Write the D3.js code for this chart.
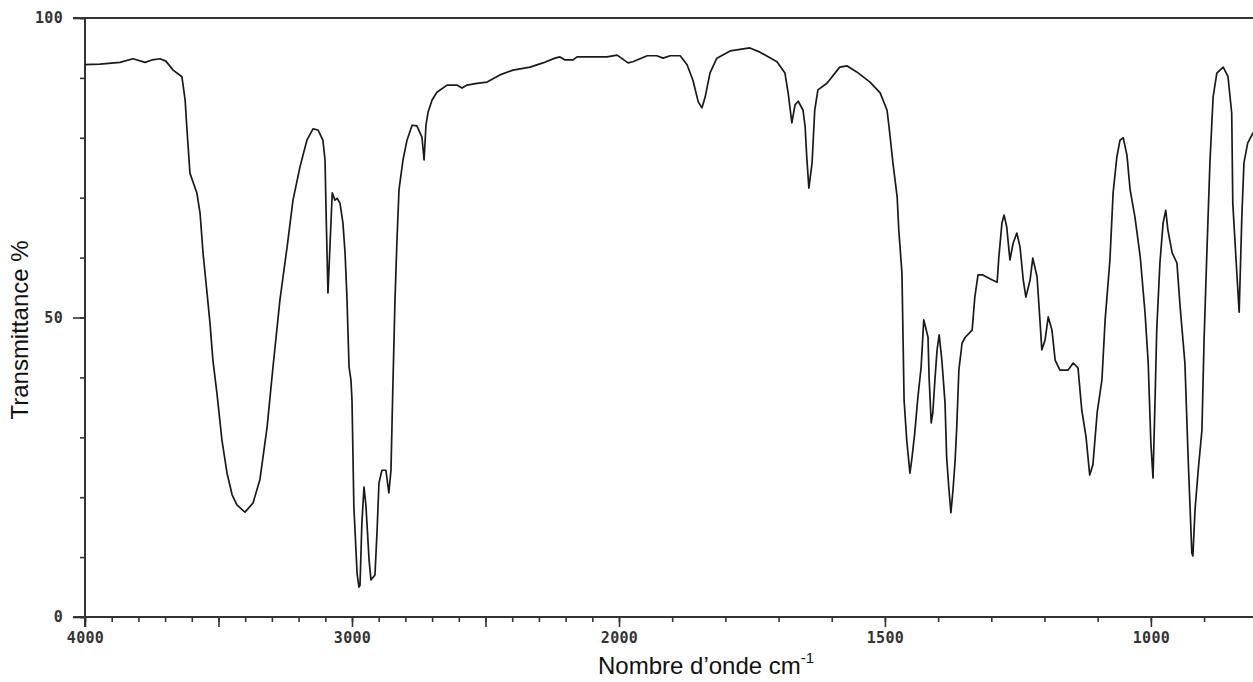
<!DOCTYPE html>
<html>
<head>
<meta charset="utf-8">
<script src="https://d3js.org/d3.v7.min.js"></script>
<style>
  body { margin: 0; background: #fff; }
  .tick-label text { font-family: "DejaVu Sans Mono", monospace; font-weight: bold; font-size: 15px; letter-spacing: 0.3px; fill: #333; }
  .axis-title { font-family: "Liberation Sans", Arial, sans-serif; font-size: 24px; fill: #111; }
</style>
</head>
<body>
<div id="spectrum"></div>
<script>

// wavenumber (cm-1)
var wavenumber = [4000, 3944, 3869, 3820, 3775, 3749, 3719, 3697, 3670, 3637, 3625, 3618, 3607, 3581, 3569, 3558,
    3543, 3532, 3521, 3506, 3487, 3468, 3449, 3431, 3401, 3371, 3345, 3318, 3296, 3270, 3243, 3221, 3195, 3169,
    3146, 3127, 3109, 3101, 3097, 3090, 3074, 3064, 3056, 3045, 3034, 3026, 3019, 3011, 3004, 3000, 2993, 2981,
    2974, 2970, 2963, 2955, 2948, 2936, 2929, 2914, 2906, 2899, 2888, 2873, 2862, 2854, 2847, 2839, 2832, 2824,
    2809, 2794, 2775, 2757, 2738, 2730, 2723, 2715, 2700, 2682, 2644, 2607, 2588, 2569, 2532, 2494, 2446, 2397,
    2333, 2285, 2240, 2221, 2202, 2172, 2157, 2045, 2007, 1983, 1974, 1947, 1929, 1917, 1904, 1885, 1872, 1861,
    1851, 1844, 1838, 1829, 1816, 1791, 1754, 1735, 1703, 1688, 1682, 1675, 1669, 1663, 1654, 1650, 1647, 1643,
    1637, 1632, 1626, 1609, 1585, 1571, 1553, 1528, 1509, 1496, 1491, 1485, 1477, 1474, 1468, 1466, 1464, 1459,
    1453, 1449, 1444, 1438, 1432, 1427, 1419, 1417, 1413, 1410, 1406, 1402, 1398, 1393, 1387, 1384, 1380, 1376,
    1372, 1368, 1365, 1361, 1355, 1349, 1336, 1331, 1325, 1316, 1299, 1289, 1286, 1280, 1276, 1271, 1265, 1259,
    1252, 1246, 1240, 1235, 1227, 1222, 1214, 1209, 1205, 1199, 1193, 1186, 1180, 1171, 1156, 1146, 1137, 1130,
    1122, 1115, 1109, 1101, 1092, 1086, 1077, 1071, 1064, 1058, 1052, 1045, 1039, 1030, 1020, 1011, 1005, 1000,
    996, 992, 989, 983, 977, 972, 968, 960, 951, 945, 936, 930, 923, 921, 917, 911, 904, 900, 895, 889, 883, 876,
    864, 855, 848, 846, 838, 834, 829, 825, 818, 808, 800];

// transmittance (%) at each wavenumber
var transmittance = [92.2, 92.3, 92.6, 93.2, 92.6, 93.0, 93.2, 92.8, 91.3, 90.2, 86.3, 81.3, 74.1, 70.8, 67.4, 60.8,
    54.1, 49.1, 42.9, 37.4, 29.5, 24.0, 20.4, 18.7, 17.5, 19.0, 22.9, 31.7, 41.7, 52.9, 61.8, 69.6, 75.1, 79.6,
    81.5, 81.3, 79.6, 76.3, 67.4, 54.1, 70.8, 69.6, 69.9, 69.1, 65.8, 60.8, 53.4, 41.7, 39.6, 36.2, 18.4, 7.3,
    5.0, 5.3, 15.7, 21.7, 18.7, 9.5, 6.2, 7.0, 14.5, 22.4, 24.5, 24.5, 20.7, 24.5, 38.4, 52.9, 62.4, 71.3,
    76.3, 79.6, 82.1, 82.0, 80.1, 76.3, 82.1, 84.3, 86.3, 87.6, 88.8, 88.8, 88.3, 88.8, 89.1, 89.3, 90.5, 91.3,
    91.8, 92.5, 93.3, 93.5, 93.0, 93.0, 93.5, 93.5, 93.8, 92.5, 92.7, 93.7, 93.7, 93.3, 93.7, 93.7, 92.2, 89.6,
    86.0, 85.0, 86.8, 90.8, 93.3, 94.5, 95.0, 94.3, 92.7, 90.8, 87.5, 82.5, 85.5, 86.1, 84.6, 81.8, 76.8, 71.6,
    75.8, 84.6, 88.0, 89.1, 91.8, 92.0, 91.0, 89.3, 87.5, 84.6, 80.8, 75.8, 70.1, 64.6, 57.4, 46.7, 36.2, 29.5,
    24.0, 26.7, 30.7, 36.7, 41.7, 49.6, 46.7, 40.0, 32.4, 34.1, 39.6, 44.6, 47.1, 42.9, 35.7, 26.7, 21.7, 17.4,
    21.2, 26.2, 31.7, 41.2, 45.7, 46.7, 47.9, 53.4, 57.1, 57.1, 56.3, 55.9, 59.9, 65.8, 67.1, 65.1, 59.6, 62.4,
    64.1, 61.8, 56.3, 53.4, 56.3, 59.9, 56.8, 50.1, 44.6, 46.2, 50.1, 47.9, 42.9, 41.2, 41.2, 42.4, 41.6, 34.6,
    30.1, 23.7, 25.4, 34.1, 39.6, 49.6, 59.6, 70.8, 76.8, 79.6, 80.0, 77.1, 71.3, 66.8, 60.1, 50.8, 42.4, 29.0,
    23.2, 36.7, 47.9, 59.1, 65.8, 67.9, 64.6, 60.8, 59.1, 51.8, 42.4, 26.7, 10.7, 10.2, 17.9, 24.5, 31.2, 46.2,
    60.1, 75.8, 86.8, 90.8, 91.8, 90.2, 84.1, 69.1, 56.8, 50.9, 66.8, 75.8, 79.1, 80.8, 81.0];

// axis ticks
var xMajorTicks = [4000, 3500, 3000, 2500, 2000, 1500, 1000];
var xLabelled = [4000, 3000, 2000, 1500, 1000];
var xMinorTicks = d3.range(4000, 799, -100);
var yMajorTicks = [0, 50, 100];
var yMinorTicks = d3.range(0, 101, 10);


SpectrumVis = function(_parentElement){
    this.parentElement = _parentElement;
    this.initVis();
}

SpectrumVis.prototype.initVis = function(){
    var vis = this;

    vis.width = 1253;
    vis.height = 682;

    vis.svg = d3.select("#" + vis.parentElement).append("svg")
        .attr("width", vis.width)
        .attr("height", vis.height);

    // scale changes at 2000 cm-1 (twice as wide below it)
    vis.x = d3.scaleLinear()
        .domain([4000, 2000, 400])
        .range([85, 619, 1470]);

    vis.y = d3.scaleLinear()
        .domain([0, 100])
        .range([617, 18]);

    vis.svg.append("clipPath").attr("id", "plot-clip")
        .append("rect")
        .attr("x", 84).attr("y", 0)
        .attr("width", vis.width - 84).attr("height", vis.height);

    var axisColor = "#333";

    // minor ticks
    vis.svg.append("g")
        .attr("transform", "translate(0," + vis.y(0) + ")")
        .call(d3.axisBottom(vis.x).tickValues(xMinorTicks).tickSize(5).tickFormat(""))
        .call(function(g){ g.select(".domain").remove(); })
        .selectAll("line").attr("stroke", axisColor).attr("stroke-width", 1.6);

    vis.svg.append("g")
        .attr("transform", "translate(" + vis.x(4000) + ",0)")
        .call(d3.axisLeft(vis.y).tickValues(yMinorTicks).tickSize(5).tickFormat(""))
        .call(function(g){ g.select(".domain").remove(); })
        .selectAll("line").attr("stroke", axisColor).attr("stroke-width", 1.6);

    // major ticks + labels
    var xAxis = vis.svg.append("g")
        .attr("class", "tick-label")
        .attr("transform", "translate(0," + vis.y(0) + ")")
        .call(d3.axisBottom(vis.x).tickValues(xMajorTicks).tickSize(10).tickPadding(5)
            .tickFormat(function(d){ return xLabelled.indexOf(d) >= 0 ? d : ""; }));
    xAxis.select(".domain").remove();
    xAxis.selectAll("line").attr("stroke", axisColor).attr("stroke-width", 1.6);

    var yAxis = vis.svg.append("g")
        .attr("class", "tick-label")
        .attr("transform", "translate(" + vis.x(4000) + ",0)")
        .call(d3.axisLeft(vis.y).tickValues(yMajorTicks).tickSize(12).tickPadding(10));
    yAxis.select(".domain").remove();
    yAxis.selectAll("line").attr("stroke", axisColor).attr("stroke-width", 1.6);

    // frame: bottom, top, left
    vis.svg.append("line")
        .attr("x1", 73).attr("x2", vis.width)
        .attr("y1", vis.y(0)).attr("y2", vis.y(0))
        .attr("stroke", axisColor).attr("stroke-width", 2);
    vis.svg.append("line")
        .attr("x1", 73).attr("x2", vis.width)
        .attr("y1", vis.y(100)).attr("y2", vis.y(100))
        .attr("stroke", axisColor).attr("stroke-width", 2);
    vis.svg.append("line")
        .attr("x1", vis.x(4000)).attr("x2", vis.x(4000))
        .attr("y1", vis.y(100)).attr("y2", vis.y(0) + 10)
        .attr("stroke", axisColor).attr("stroke-width", 2);

    // spectrum
    var line = d3.line()
        .x(function(d, i){ return vis.x(wavenumber[i]); })
        .y(function(d){ return vis.y(d); });

    vis.svg.append("path")
        .datum(transmittance)
        .attr("clip-path", "url(#plot-clip)")
        .attr("d", line)
        .attr("fill", "none")
        .attr("stroke", "#1a1a1a")
        .attr("stroke-width", 1.7)
        .attr("stroke-linejoin", "round");

    // axis titles
    vis.svg.append("text")
        .attr("class", "axis-title")
        .attr("transform", "translate(28,330) rotate(-90)")
        .attr("text-anchor", "middle")
        .text("Transmittance %");

    var xt = vis.svg.append("text")
        .attr("class", "axis-title")
        .attr("x", 598)
        .attr("y", 674);
    xt.append("tspan").text("Nombre d\u2019onde cm");
    xt.append("tspan").attr("dy", -11).attr("font-size", 15).text("-1");
}

new SpectrumVis("spectrum");

</script>
</body>
</html>
